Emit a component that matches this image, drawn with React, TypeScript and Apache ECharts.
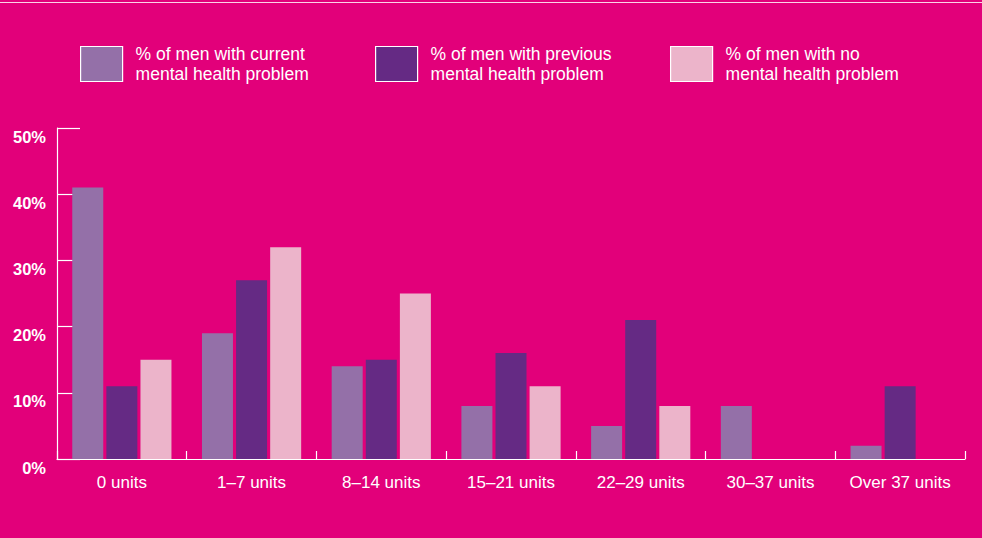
import React, { useEffect, useRef } from "react";
import * as echarts from "echarts";

const categories = ["0 units", "1–7 units", "8–14 units", "15–21 units", "22–29 units", "30–37 units", "Over 37 units"];
const seriesNames = [
  "% of men with current\nmental health problem",
  "% of men with previous\nmental health problem",
  "% of men with no\nmental health problem",
];
const currentProblem = [41, 19, 14, 8, 5, 8, 2];
const previousProblem = [11, 27, 15, 16, 21, 0, 11];
const noProblem = [15, 32, 25, 11, 8, 0, 0];
const yTicks = [0, 10, 20, 30, 40, 50];

const colors = ["#9470A8", "#652A84", "#ECB4CA"];
const BG = "#E2007A";
const FONT = "'Liberation Sans', Arial, Helvetica, sans-serif";

export default function App() {
  const ref = useRef<HTMLDivElement>(null);
  useEffect(() => {
    if (!ref.current) return;
    const chart = echarts.init(ref.current, undefined, { renderer: "svg" });
    const legendLefts = [80, 375, 670];
    const legends = seriesNames.map((n, i) => ({
      data: [n],
      left: legendLefts[i],
      top: 44,
      padding: 0,
      orient: "horizontal",
      itemWidth: 42,
      itemHeight: 35,
      icon: "rect",
      selectedMode: false,
      itemStyle: { borderColor: "#FFFFFF", borderWidth: 1.2 },
      textStyle: {
        color: "#FFFFFF",
        fontSize: 17.5,
        lineHeight: 19.5,
        fontFamily: FONT,
        padding: [1, 0, 0, 8],
      },
    }));
    const data = [currentProblem, previousProblem, noProblem];
    chart.setOption({
      animation: false,
      backgroundColor: BG,
      textStyle: { fontFamily: FONT },
      legend: legends,
      graphic: [
        {
          type: "line",
          shape: { x1: 0, y1: 2.5, x2: 982, y2: 2.5 },
          style: { stroke: "#FBD3E6", lineWidth: 1.2 },
        },
      ],
      grid: { left: 57, right: 17, top: 128, bottom: 79, containLabel: false },
      xAxis: {
        type: "category",
        data: categories,
        boundaryGap: true,
        axisLine: { show: true, lineStyle: { color: "#FFFFFF", width: 1.2 } },
        axisTick: { show: true, inside: true, length: 8, lineStyle: { color: "#FFFFFF", width: 1.2 } },
        axisLabel: { color: "#FFFFFF", fontSize: 17, margin: 15, fontFamily: FONT, interval: 0 },
        splitLine: { show: false },
      },
      yAxis: {
        type: "value",
        min: yTicks[0],
        max: yTicks[yTicks.length - 1],
        interval: 10,
        axisLine: { show: true, lineStyle: { color: "#FFFFFF", width: 1.2 } },
        axisTick: { show: true, inside: true, length: 23, lineStyle: { color: "#FFFFFF", width: 1.2 } },
        axisLabel: {
          color: "#FFFFFF",
          fontSize: 16.5,
          fontWeight: "bold",
          fontFamily: FONT,
          margin: 11,
          verticalAlign: "top",
          formatter: "{value}%",
        },
        splitLine: { show: false },
      },
      series: seriesNames.map((n, i) => ({
        name: n,
        type: "bar",
        data: data[i],
        barWidth: 31,
        barGap: "10%",
        itemStyle: { color: colors[i] },
      })),
    });
    return () => chart.dispose();
  }, []);
  return (
    <div
      ref={ref}
      style={{ position: "absolute", left: 0, top: 0, width: 982, height: 538 }}
    />
  );
}
